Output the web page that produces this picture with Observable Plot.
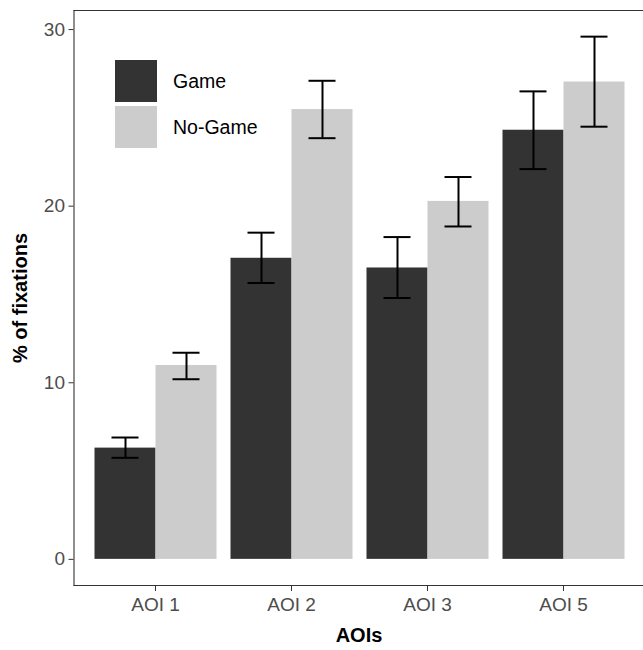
<!DOCTYPE html>
<html><head><meta charset="utf-8">
<script src="https://cdn.jsdelivr.net/npm/d3@7"></script>
<script src="https://cdn.jsdelivr.net/npm/@observablehq/plot@0.6"></script>
<style>
body{margin:0;background:#fff;overflow:hidden;}
#wrap{position:relative;width:643px;height:650px;overflow:hidden;font-family:"Liberation Sans",Arial,sans-serif;background:#fff;}
#wrap svg{position:absolute;left:0;top:0;}
.ytitle{position:absolute;left:20px;top:298px;transform:translate(-50%,-50%) rotate(-90deg);font-weight:bold;font-size:20px;color:#000;white-space:nowrap;}
.xtitle{position:absolute;left:359px;top:635px;transform:translate(-50%,-50%);font-weight:bold;font-size:20px;color:#000;white-space:nowrap;}
.legend{position:absolute;left:115px;top:60px;}
.key{display:flex;align-items:center;height:42px;margin-bottom:4px;}
.sw{width:42px;height:42px;}
.lab{margin-left:16px;font-size:19.5px;color:#000;}
</style></head><body><div id="wrap"></div>
<script>
const aois = ["AOI 1", "AOI 2", "AOI 3", "AOI 5"];
const groups = ["Game", "No-Game"];
const colors = ["#333333", "#cccccc"];
const gameMean = [6.3, 17.05, 16.5, 24.3];
const gameLow = [5.75, 15.65, 14.8, 22.1];
const gameHigh = [6.9, 18.5, 18.25, 26.5];
const noGameMean = [10.98, 25.47, 20.27, 27.03];
const noGameLow = [10.2, 23.85, 18.85, 24.5];
const noGameHigh = [11.7, 27.1, 21.65, 29.6];
const yTicks = [0, 10, 20, 30];
const xTitle = "AOIs";
const yTitle = "% of fixations";

const rows = [];
aois.forEach((a, i) => {
  rows.push({aoi: a, group: groups[0], value: gameMean[i], lo: gameLow[i], hi: gameHigh[i]});
  rows.push({aoi: a, group: groups[1], value: noGameMean[i], lo: noGameLow[i], hi: noGameHigh[i]});
});

const outer = 20.5; // panel expansion beyond the outermost bars
const border = {facet: "super", stroke: "#333333", strokeWidth: 1.1, insetLeft: -outer, insetRight: -3 * outer};
const plot = Plot.plot({
  width: 643, height: 650,
  marginTop: 10, marginBottom: 65, marginLeft: 72 + outer, marginRight: 17,
  style: {fontFamily: '"Liberation Sans", Arial, sans-serif', fontSize: "19px", color: "#4d4d4d", background: "white", overflow: "visible", maxWidth: "none"},
  fx: {domain: aois, paddingInner: 0.1, paddingOuter: 0, label: null},
  x: {domain: groups, padding: 0, axis: null},
  y: {domain: [-1.48, 31.08]},
  color: {domain: groups, range: colors},
  marks: [
    Plot.barY(rows, {fx: "aoi", x: "group", y: "value", fill: "group"}),
    Plot.ruleX(rows, {fx: "aoi", x: "group", y1: "lo", y2: "hi", stroke: "black", strokeWidth: 2}),
    Plot.tickY(rows, {fx: "aoi", x: "group", y: "lo", stroke: "black", strokeWidth: 2, insetLeft: 17, insetRight: 17}),
    Plot.tickY(rows, {fx: "aoi", x: "group", y: "hi", stroke: "black", strokeWidth: 2, insetLeft: 17, insetRight: 17}),
    Plot.frame({...border, anchor: "top"}),
    Plot.frame({...border, anchor: "left"}),
    Plot.frame({...border, anchor: "bottom"}),
    Plot.axisY({ticks: yTicks, tickSize: 5, tickPadding: 4, label: null, stroke: "#333333", fill: "#4d4d4d", dx: -outer}),
    Plot.axisFx({anchor: "bottom", tickSize: 6, tickPadding: 6, label: null, stroke: "#333333", fill: "#4d4d4d"})
  ]
});

const wrap = document.getElementById("wrap");
wrap.appendChild(plot);

const yt = document.createElement("div"); yt.className = "ytitle"; yt.textContent = yTitle; wrap.appendChild(yt);
const xt = document.createElement("div"); xt.className = "xtitle"; xt.textContent = xTitle; wrap.appendChild(xt);

const leg = document.createElement("div"); leg.className = "legend";
groups.forEach((g, i) => {
  const k = document.createElement("div"); k.className = "key";
  const s = document.createElement("div"); s.className = "sw"; s.style.background = colors[i];
  const l = document.createElement("div"); l.className = "lab"; l.textContent = g;
  k.appendChild(s); k.appendChild(l); leg.appendChild(k);
});
wrap.appendChild(leg);
</script></body></html>
